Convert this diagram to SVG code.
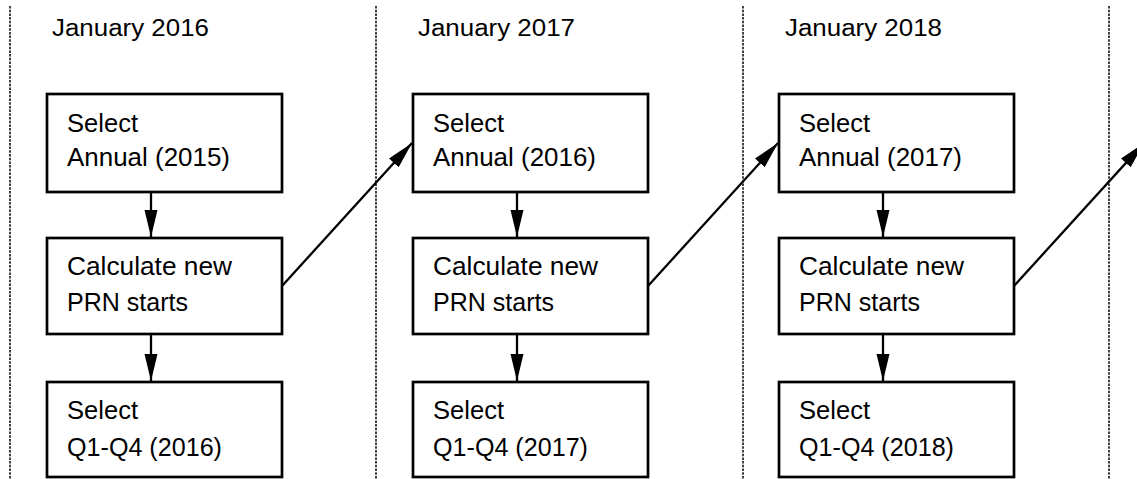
<svg xmlns="http://www.w3.org/2000/svg" width="1137" height="479" viewBox="0 0 1137 479">
<style>
.box{fill:#fff;stroke:#000;stroke-width:2.7}
.t{font-family:"Liberation Sans",Arial,sans-serif;font-size:25px;fill:#000}
.h{font-family:"Liberation Sans",Arial,sans-serif;font-size:23px;fill:#000}
.sep{stroke:#111;stroke-width:1.6;stroke-dasharray:2.5 1.2;fill:none}
.arr{stroke:#000;stroke-width:2.3;fill:none;marker-end:url(#ah)}
</style>
<defs>
<marker id="ah" markerUnits="userSpaceOnUse" markerWidth="30" markerHeight="14" refX="27" refY="6.5" orient="auto">
<path d="M0,0 L27,6.5 L0,13 Z" fill="#000"/>
</marker>
</defs>
<g id="separators">
<line class="sep" x1="10" y1="6" x2="10" y2="479"/>
<line class="sep" x1="376" y1="6" x2="376" y2="479"/>
<line class="sep" x1="743" y1="6" x2="743" y2="479"/>
<line class="sep" x1="1109" y1="6" x2="1109" y2="479"/>
</g>
<g id="headers">
<text class="h" x="52" y="36" textLength="157" lengthAdjust="spacingAndGlyphs">January 2016</text>
<text class="h" x="418" y="36" textLength="157" lengthAdjust="spacingAndGlyphs">January 2017</text>
<text class="h" x="785" y="36" textLength="157" lengthAdjust="spacingAndGlyphs">January 2018</text>
</g>
<g id="c1-select-annual"><rect class="box" x="47" y="94" width="235" height="98"/>
<text class="t" x="67" y="132" textLength="71" lengthAdjust="spacingAndGlyphs">Select</text>
<text class="t" x="67" y="166" textLength="163" lengthAdjust="spacingAndGlyphs">Annual (2015)</text></g>
<g id="c1-calc"><rect class="box" x="47" y="238" width="235" height="96"/>
<text class="t" x="67" y="275" textLength="165" lengthAdjust="spacingAndGlyphs">Calculate new</text>
<text class="t" x="67" y="311" textLength="121" lengthAdjust="spacingAndGlyphs">PRN starts</text></g>
<g id="c1-select-q"><rect class="box" x="47" y="382" width="235" height="95"/>
<text class="t" x="67" y="419" textLength="71" lengthAdjust="spacingAndGlyphs">Select</text>
<text class="t" x="67" y="456" textLength="155" lengthAdjust="spacingAndGlyphs">Q1-Q4 (2016)</text></g>
<g id="c2-select-annual"><rect class="box" x="413" y="94" width="235" height="98"/>
<text class="t" x="433" y="132" textLength="71" lengthAdjust="spacingAndGlyphs">Select</text>
<text class="t" x="433" y="166" textLength="163" lengthAdjust="spacingAndGlyphs">Annual (2016)</text></g>
<g id="c2-calc"><rect class="box" x="413" y="238" width="235" height="96"/>
<text class="t" x="433" y="275" textLength="165" lengthAdjust="spacingAndGlyphs">Calculate new</text>
<text class="t" x="433" y="311" textLength="121" lengthAdjust="spacingAndGlyphs">PRN starts</text></g>
<g id="c2-select-q"><rect class="box" x="413" y="382" width="235" height="95"/>
<text class="t" x="433" y="419" textLength="71" lengthAdjust="spacingAndGlyphs">Select</text>
<text class="t" x="433" y="456" textLength="155" lengthAdjust="spacingAndGlyphs">Q1-Q4 (2017)</text></g>
<g id="c3-select-annual"><rect class="box" x="779" y="94" width="235" height="98"/>
<text class="t" x="799" y="132" textLength="71" lengthAdjust="spacingAndGlyphs">Select</text>
<text class="t" x="799" y="166" textLength="163" lengthAdjust="spacingAndGlyphs">Annual (2017)</text></g>
<g id="c3-calc"><rect class="box" x="779" y="238" width="235" height="96"/>
<text class="t" x="799" y="275" textLength="165" lengthAdjust="spacingAndGlyphs">Calculate new</text>
<text class="t" x="799" y="311" textLength="121" lengthAdjust="spacingAndGlyphs">PRN starts</text></g>
<g id="c3-select-q"><rect class="box" x="779" y="382" width="235" height="95"/>
<text class="t" x="799" y="419" textLength="71" lengthAdjust="spacingAndGlyphs">Select</text>
<text class="t" x="799" y="456" textLength="155" lengthAdjust="spacingAndGlyphs">Q1-Q4 (2018)</text></g>
<g id="connectors">
<line class="arr" x1="151" y1="193" x2="151" y2="237"/>
<line class="arr" x1="151" y1="335" x2="151" y2="381"/>
<line class="arr" x1="517" y1="193" x2="517" y2="237"/>
<line class="arr" x1="517" y1="335" x2="517" y2="381"/>
<line class="arr" x1="883" y1="193" x2="883" y2="237"/>
<line class="arr" x1="883" y1="335" x2="883" y2="381"/>
<line class="arr" x1="282" y1="286" x2="412" y2="143"/>
<line class="arr" x1="648" y1="286" x2="778" y2="143"/>
<line class="arr" x1="1014" y1="286" x2="1144" y2="143"/>
</g>
</svg>
